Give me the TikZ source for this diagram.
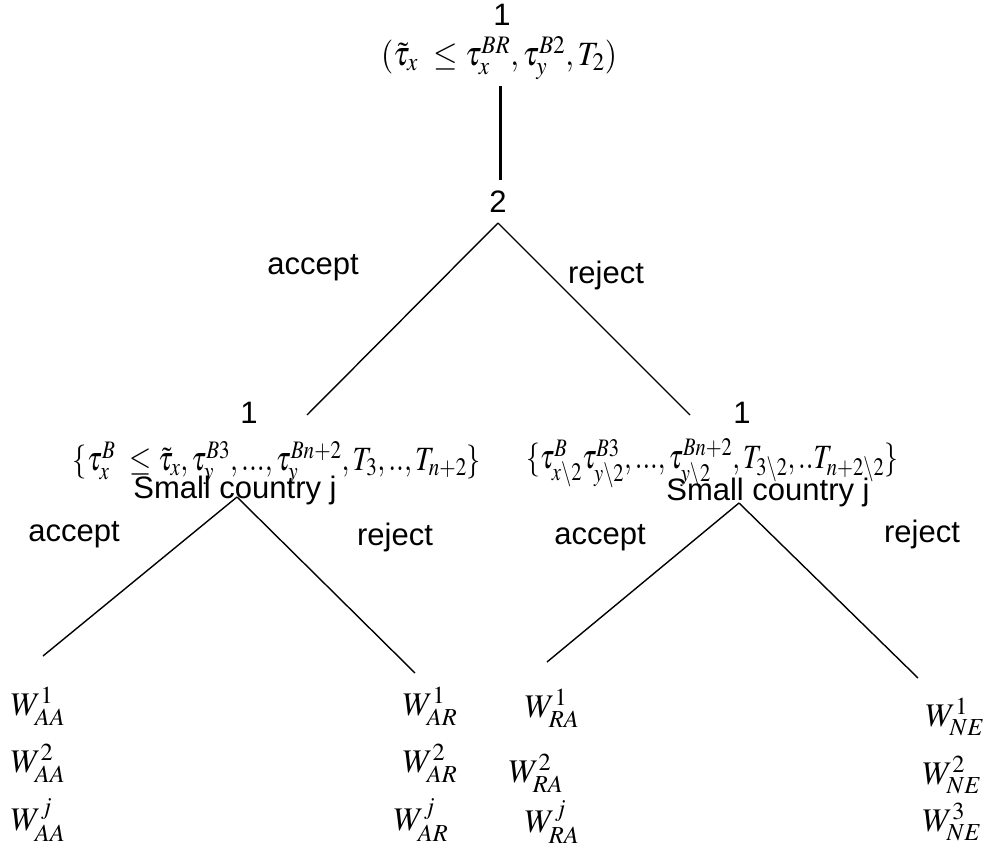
\documentclass[tikz,border=0pt]{standalone}
\usepackage{mathptmx}
\usepackage[no-math]{fontspec}
\setmainfont{Liberation Sans}
\begin{document}
\begin{tikzpicture}[x=1pt,y=-1pt]
\tikzset{
  lab/.style={font=\fontsize{31}{36}\selectfont, inner sep=0pt},
  mth/.style={font=\fontsize{34}{40}\selectfont, inner sep=0pt},
  pay/.style={font=\fontsize{33}{38}\selectfont, inner sep=0pt},
  branch/.style={line width=1.4pt},
  trunk/.style={line width=3pt}
}
\useasboundingbox (0,0) rectangle (983,848);

% root: player 1 makes the offer
\node[lab] (top1) at (502,15) {1};
\node[mth] (topf) at (499,58) {\resizebox{236pt}{\height}{$(\tilde{\tau}_x\ \le \tau_x^{BR},\tau_y^{B2},T_2)$}};
\coordinate (trunkA) at (500,86);
\coordinate (trunkB) at (500,180);
\draw[trunk] (trunkA) -- (trunkB);

% player 2 decides
\node[lab] (two) at (498,202) {2};
\coordinate (p2) at (498,223);
\coordinate (p2L) at (307,415);
\coordinate (p2R) at (690,415);
\draw[branch] (p2) -- (p2L);
\draw[branch] (p2) -- (p2R);
\node[lab] (accTop) at (313,268) {accept};
\node[lab] (rejTop) at (606,275) {reject};

% left subgame
\node[lab] (L1) at (249,413) {1};
\node[mth] (Lf) at (277,463) {\resizebox{408pt}{\height}{$\{\tau_x^{B}\ \le\tilde{\tau}_x,\tau_y^{B3},...,\tau_y^{Bn+2},T_3,..,T_{n+2}\}$}};
\node[lab] (Lsc) at (235,490) {Small country j};
\coordinate (pL) at (237,497);
\coordinate (eLL) at (43,656);
\coordinate (eLR) at (415,673);
\draw[branch] (pL) -- (eLL);
\draw[branch] (pL) -- (eLR);
\node[lab] (accL) at (74,535) {accept};
\node[lab] (rejL) at (395,537) {reject};

% right subgame
\node[lab] (R1) at (742,413) {1};
\node[mth] (Rf) at (712,463) {\resizebox{372pt}{\height}{$\{\tau_{x\backslash 2}^{B}\tau_{y\backslash 2}^{B3},...,\tau_{y\backslash 2}^{Bn+2},T_{3\backslash 2},..T_{n+2\backslash 2}\}$}};
\node[lab] (Rsc) at (768,492) {Small country j};
\coordinate (pR) at (739,503);
\coordinate (eRL) at (547,662);
\coordinate (eRR) at (918,678);
\draw[branch] (pR) -- (eRL);
\draw[branch] (pR) -- (eRR);
\node[lab] (accR) at (600,538) {accept};
\node[lab] (rejR) at (922,534) {reject};

% payoffs
\node[pay] (wAA1) at (38,706) {$W_{AA}^{1}$};
\node[pay] (wAA2) at (38,763) {$W_{AA}^{2}$};
\node[pay] (wAAj) at (38,820) {$W_{AA}^{j}$};
\node[pay] (wAR1) at (430,706) {$W_{AR}^{1}$};
\node[pay] (wAR2) at (430,763) {$W_{AR}^{2}$};
\node[pay] (wARj) at (421,820) {$W_{AR}^{j}$};
\node[pay] (wRA1) at (552,708) {$W_{RA}^{1}$};
\node[pay] (wRA2) at (536,773) {$W_{RA}^{2}$};
\node[pay] (wRAj) at (552,822) {$W_{RA}^{j}$};
\node[pay] (wNE1) at (955,717) {$W_{NE}^{1}$};
\node[pay] (wNE2) at (952,775) {$W_{NE}^{2}$};
\node[pay] (wNE3) at (952,822) {$W_{NE}^{3}$};
\end{tikzpicture}
\end{document}
